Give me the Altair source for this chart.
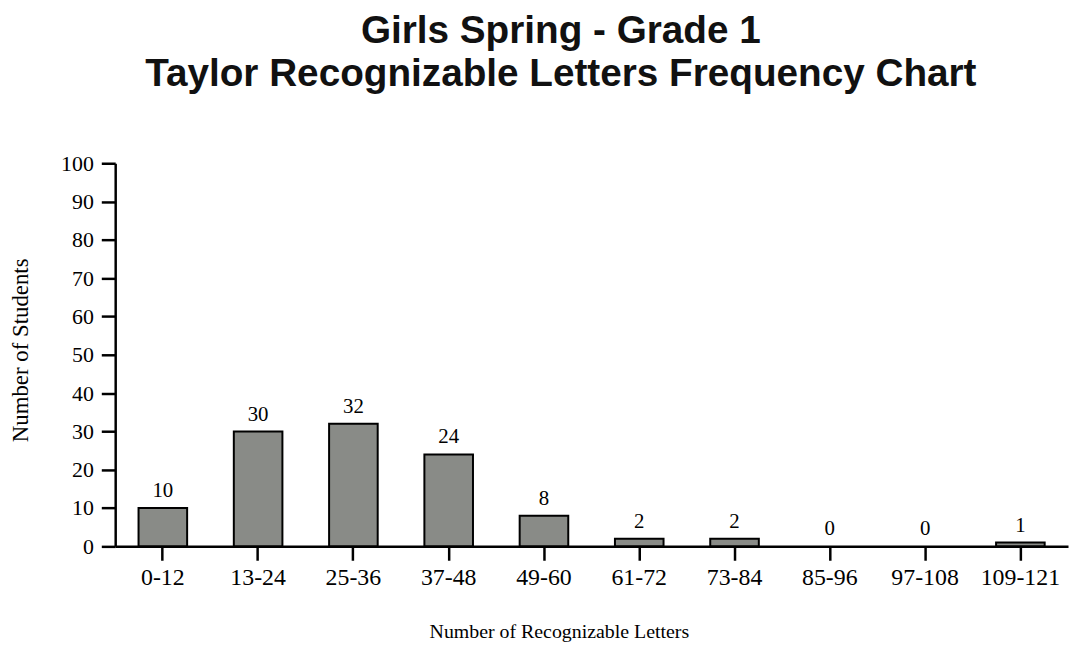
import altair as alt
import pandas as pd

categories = ["0-12", "13-24", "25-36", "37-48", "49-60", "61-72", "73-84", "85-96", "97-108", "109-121"]
counts = [10, 30, 32, 24, 8, 2, 2, 0, 0, 1]

df = pd.DataFrame({"range": categories, "count": counts})

x = alt.X("range:N", sort=categories,
          scale=alt.Scale(paddingInner=0.49, paddingOuter=0.245),
          axis=alt.Axis(title="Number of Recognizable Letters", labelAngle=0,
                        titleX=447, titleY=92, titleBaseline="alphabetic",
                        titleFontSize=20, labelPadding=5, labelFontSize=24))
y = alt.Y("count:Q", scale=alt.Scale(domain=[0, 100], nice=False),
          axis=alt.Axis(title="Number of Students", values=list(range(0, 101, 10)),
                        titleX=-88, titleY=188, titleBaseline="alphabetic",
                        titleFontSize=23, labelPadding=8, labelFontSize=22))

bars = alt.Chart(df).transform_filter("datum.count > 0").mark_bar(
    color="#898b87", stroke="black", strokeWidth=2
).encode(x=x, y=y)

labels = alt.Chart(df).mark_text(
    baseline="alphabetic", dy=-11, font="Liberation Serif", fontSize=21, color="black"
).encode(x=x, y=y, text="count:Q")

chart = (bars + labels).properties(
    width=960, height=386,
    title=alt.TitleParams(
        ["Girls Spring - Grade 1", "Taylor Recognizable Letters Frequency Chart"],
        font="Liberation Sans", fontSize=39, fontWeight="bold", color="#111111",
        anchor="middle", dx=-31, offset=59, lineHeight=43
    ),
    autosize=alt.AutoSizeParams(type="none"),
    padding={"left": 108, "top": 154, "right": 2, "bottom": 100},
).configure_view(stroke=None).configure_axis(
    grid=False, domainColor="black", domainWidth=2.5, tickColor="black", tickWidth=2.5,
    tickSize=14, labelFont="Liberation Serif", labelColor="black",
    titleFont="Liberation Serif", titleFontWeight="normal", titleColor="black"
)

chart.save("out.html", embed_options={"renderer": "svg", "actions": False})
